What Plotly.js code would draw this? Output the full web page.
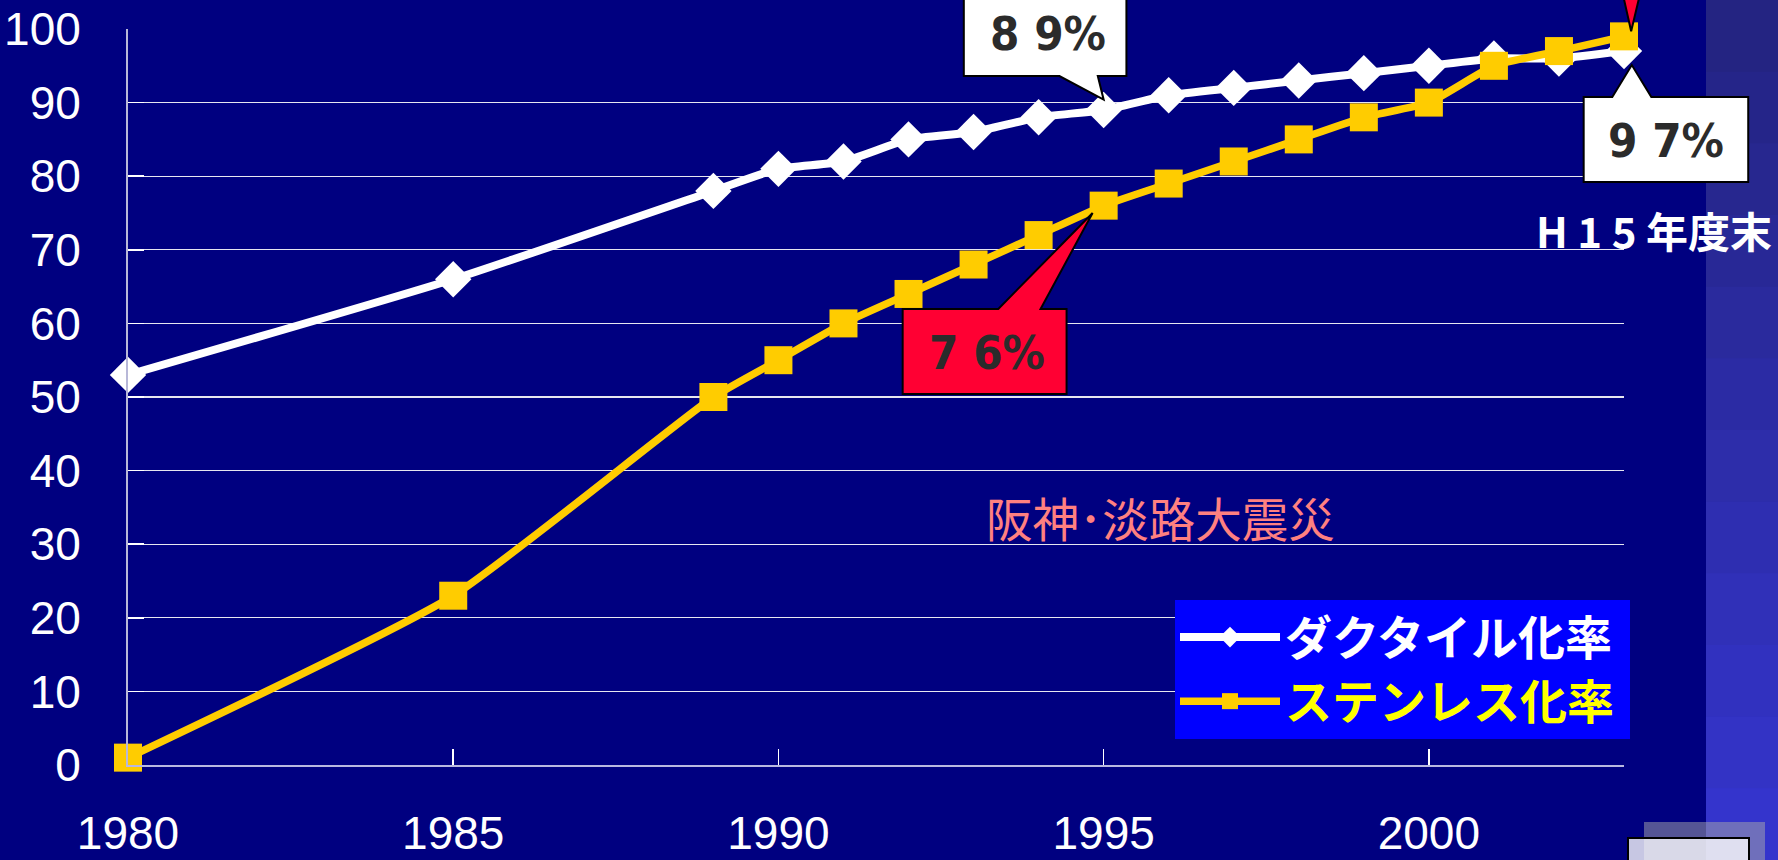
<!DOCTYPE html>
<html>
<head>
<meta charset="utf-8">
<script src="https://cdn.plot.ly/plotly-3.0.1.min.js"></script>
<style>
  html, body { margin: 0; padding: 0; background: #000080; }
  #chart { width: 1778px; height: 860px; }
</style>
</head>
<body>
<div id="chart"></div>
<script>
// ---- data ----
const years = [1980, 1985, 1989, 1990, 1991, 1992, 1993, 1994, 1995, 1996, 1997, 1998, 1999, 2000, 2001, 2002, 2003];
const ductileRate = [53, 66, 78, 81, 82, 85, 86, 88, 89, 91, 92, 93, 94, 95, 96, 96, 97];
const stainlessRate = [1, 23, 50, 55, 60, 64, 68, 72, 76, 79, 82, 85, 88, 90, 95, 97, 99];
const seriesNames = ['ダクタイル化率', 'ステンレス化率'];
const xTickVals = [1980, 1985, 1990, 1995, 2000];
const yTickVals = [0, 10, 20, 30, 40, 50, 60, 70, 80, 90, 100];
const calloutTexts = ['8 9%', '7 6%', '9 7%'];
const noteText = 'H 1 5 年度末';
const quakeText = '阪神･淡路大震災';

// ---- layout constants ----
const W = 1778, H = 860;
const M = { l: 128, r: 154, t: 29, b: 95 };
const XR = [1980, 2003], YR = [0, 100];
const plotW = W - M.l - M.r, plotH = H - M.t - M.b;

// data -> paper
const px = x => (x - XR[0]) / (XR[1] - XR[0]);
const py = y => (y - YR[0]) / (YR[1] - YR[0]);
// pixel -> paper (decoration only)
const pxX = p => (p - M.l) / plotW;
const pxY = p => (H - M.b - p) / plotH;

function calloutPath(x0, x1, y0, y1, b1, b2, tipX, tipY, pointerOnTop) {
  const X = px, Y = py;
  if (pointerOnTop) {
    return `M${X(x0)},${Y(y1)} L${X(b1)},${Y(y1)} L${X(tipX)},${Y(tipY)} L${X(b2)},${Y(y1)} L${X(x1)},${Y(y1)} L${X(x1)},${Y(y0)} L${X(x0)},${Y(y0)} Z`;
  }
  return `M${X(x0)},${Y(y1)} L${X(x1)},${Y(y1)} L${X(x1)},${Y(y0)} L${X(b2)},${Y(y0)} L${X(tipX)},${Y(tipY)} L${X(b1)},${Y(y0)} L${X(x0)},${Y(y0)} Z`;
}

const shapes = [];
// right side gradient band
const bandN = 12;
for (let i = 0; i < bandN; i++) {
  const t = i / (bandN - 1);
  const r = Math.round(36 + t * (52 - 36));
  const b = Math.round(130 + t * (204 - 130));
  shapes.push({ type: 'rect', xref: 'paper', yref: 'paper', layer: 'below',
    x0: pxX(1706), x1: pxX(1778), y0: pxY(i * H / bandN), y1: pxY((i + 1) * H / bandN + 1),
    fillcolor: `rgb(${r},${r},${b})`, line: { width: 0 } });
}
// bottom-right slide decoration
shapes.push({ type: 'rect', xref: 'paper', yref: 'paper', x0: pxX(1644), x1: pxX(1765), y0: pxY(822), y1: pxY(862),
  fillcolor: 'rgba(170,170,170,0.5)', line: { width: 0 } });
shapes.push({ type: 'rect', xref: 'paper', yref: 'paper', x0: pxX(1628), x1: pxX(1749), y0: pxY(838), y1: pxY(866),
  fillcolor: 'rgba(255,255,255,0.78)', line: { color: '#000000', width: 2 } });

// 89% callout (white), pointing to ductile 1995
shapes.push({ type: 'path', xref: 'paper', yref: 'paper',
  path: calloutPath(1992.85, 1995.35, 93.6, 106, 1994.32, 1994.91, 1995.0, 90.4, false),
  fillcolor: '#FFFFFF', line: { color: '#000000', width: 2 } });
// 76% callout (red), pointing to stainless 1995
shapes.push({ type: 'path', xref: 'paper', yref: 'paper',
  path: calloutPath(1991.91, 1994.43, 50.4, 61.96, 1993.38, 1994.03, 1994.83, 75.0, true),
  fillcolor: '#FF0033', line: { color: '#000000', width: 2 } });
// 97% callout (white), pointing to ductile 2003
shapes.push({ type: 'path', xref: 'paper', yref: 'paper',
  path: calloutPath(2002.38, 2004.91, 79.2, 90.76, 2002.82, 2003.42, 2003.12, 95.1, true),
  fillcolor: '#FFFFFF', line: { color: '#000000', width: 2 } });
// red pointer from above (stainless 2003)
shapes.push({ type: 'path', xref: 'paper', yref: 'paper',
  path: `M${px(2002.95)},${py(106)} L${px(2003.11)},${py(99.7)} L${px(2003.28)},${py(106)} Z`,
  fillcolor: '#FF0033', line: { color: '#000000', width: 2 } });

const calloutFont = { family: '"Liberation Sans Narrow", "DejaVu Sans Condensed", "Liberation Sans", sans-serif', size: 47, color: '#2B2B2B', weight: 'bold' };
const cjkBold = '"Noto Sans CJK JP", "Noto Sans", sans-serif';

const annotations = [
  { xref: 'paper', yref: 'paper', x: px(1994.15), y: py(99.4), text: '<b>' + calloutTexts[0] + '</b>', showarrow: false, font: calloutFont, xanchor: 'center', yanchor: 'middle' },
  { xref: 'paper', yref: 'paper', x: px(1993.2), y: py(56.0), text: '<b>' + calloutTexts[1] + '</b>', showarrow: false, font: calloutFont, xanchor: 'center', yanchor: 'middle' },
  { xref: 'paper', yref: 'paper', x: px(2003.65), y: py(84.8), text: '<b>' + calloutTexts[2] + '</b>', showarrow: false, font: calloutFont, xanchor: 'center', yanchor: 'middle' },
  { xref: 'paper', yref: 'paper', x: px(2003.46), y: py(72.7), text: '<b>' + noteText + '</b>', showarrow: false,
    font: { family: cjkBold, size: 42, color: '#FFFFFF' }, xanchor: 'center', yanchor: 'middle' },
  { xref: 'paper', yref: 'paper', x: px(1995.88), y: py(33.8), text: quakeText, showarrow: false,
    font: { family: cjkBold, size: 46.5, color: '#FF8080' }, xanchor: 'center', yanchor: 'middle' }
];

const traces = [
  { x: years, y: ductileRate, name: '<b>' + seriesNames[0] + '</b>&nbsp;', type: 'scatter', mode: 'lines+markers', cliponaxis: false,
    line: { color: '#FFFFFF', width: 8, shape: 'spline', smoothing: 0.5 },
    marker: { symbol: 'diamond', size: 28, color: '#FFFFFF', line: { width: 0 } } },
  { x: years, y: stainlessRate, name: '<span style="color:#FFFF00"><b>' + seriesNames[1] + '</b></span>&nbsp;', type: 'scatter', mode: 'lines+markers', cliponaxis: false,
    line: { color: '#FFCC00', width: 7.5, shape: 'spline', smoothing: 0.5 },
    marker: { symbol: 'square', size: 28, color: '#FFCC00', line: { width: 0 } } }
];

const tickFont = { family: '"Liberation Sans", Arial, sans-serif', size: 46, color: '#FFFFFF' };

const layout = {
  width: W, height: H,
  margin: M,
  paper_bgcolor: '#000080', plot_bgcolor: '#000080',
  showlegend: true,
  legend: {
    x: pxX(1630), xanchor: 'right', y: pxY(600), yanchor: 'top',
    bgcolor: '#0000FF', borderwidth: 0, itemwidth: 100,
    font: { family: cjkBold, size: 47, color: '#FFFFFF' },
    tracegroupgap: 0, itemclick: false
  },
  xaxis: {
    range: XR, tickmode: 'array', tickvals: xTickVals, ticktext: xTickVals.map(String),
    ticks: 'inside', ticklen: 16, tickwidth: 1.5, tickcolor: '#FFFFFF',
    showline: true, linecolor: '#B8B8E0', linewidth: 2, showgrid: false, zeroline: false,
    tickfont: tickFont, ticklabelstandoff: 27
  },
  yaxis: {
    range: YR, tickmode: 'array', tickvals: yTickVals, ticktext: yTickVals.map(String),
    ticks: 'inside', ticklen: 16, tickwidth: 1.5, tickcolor: '#FFFFFF',
    showline: true, linecolor: '#B8B8D8', linewidth: 2, showgrid: true, gridcolor: '#E6E6F0', gridwidth: 1.2, zeroline: false,
    tickfont: tickFont, ticklabelstandoff: 36
  },
  shapes: shapes,
  annotations: annotations
};

Plotly.newPlot('chart', traces, layout, { staticPlot: true, displayModeBar: false });
</script>
</body>
</html>
